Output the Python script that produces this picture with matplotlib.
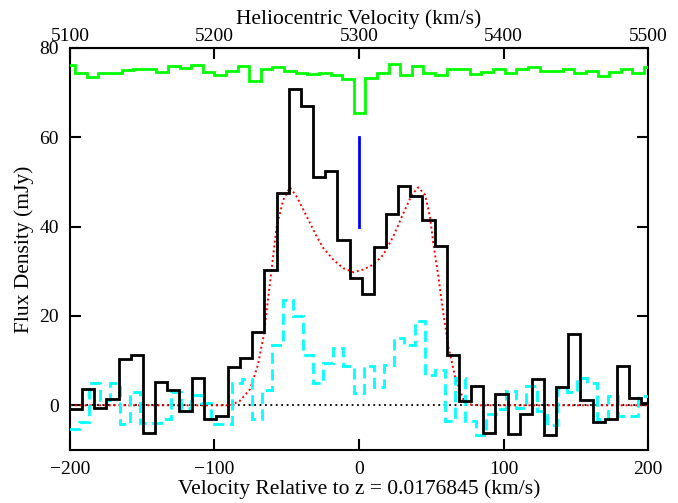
import numpy as np
import matplotlib
matplotlib.use('Agg')
import matplotlib.pyplot as plt

plt.rcParams['font.family'] = ['Liberation Serif', 'DejaVu Serif']
plt.rcParams['mathtext.fontset'] = 'stix'

V_SYS = 5300.0  # heliocentric velocity at z = 0.0176845

# HI spectrum (black), channel grid
hi_start, hi_width = -200.0, 8.41
hi_flux = [-0.9, 3.7, -0.5, 1.5, 10.3, 11.2, -6.3, 5.3, 3.4, -1.3,
           6.2, -3.0, -2.5, 8.6, 10.7, 16.4, 30.4, 47.5, 70.9, 67.0,
           51.2, 52.5, 36.9, 28.4, 24.9, 35.4, 42.8, 49.2, 46.9, 41.5,
           35.7, 11.2, 1.0, 4.3, -6.3, 2.6, -6.5, -2.0, 5.8, -6.7,
           4.1, 16.0, 1.3, -3.7, -3.1, 8.9, 1.6, 0.6]

# second spectrum (cyan, dashed)
alt_start, alt_width = -200.55, 7.03
alt_flux = [-5.2, -3.7, 5.1, 1.3, 5.1, -4.1, 3.0, -4.0, -3.9, -3.0,
            3.0, -0.7, 2.2, 0.5, -4.1, -4.1, 5.1, 5.9, -3.1, 3.4,
            13.4, 23.5, 19.9, 11.2, 4.9, 9.5, 12.9, 8.8, 2.8, 8.8,
            4.1, 9.0, 15.1, 13.4, 18.8, 6.8, 7.8, -3.6, 6.2, -3.4,
            -6.6, -2.0, -0.9, 3.3, -0.7, 4.3, -1.2, -4.5, 3.9, 3.0,
            6.2, 5.1, -3.0, 2.1, -2.4, -2.3, 2.0]

# offset spectrum on top (green)
top_start, top_width = -204.5, 8.035
top_flux = [76.2, 74.3, 73.5, 74.3, 74.5, 75.0, 75.2, 75.2, 74.7, 75.9,
            75.6, 76.3, 74.7, 73.9, 74.8, 75.9, 72.5, 75.2, 75.8, 74.9,
            74.5, 74.1, 74.4, 73.9, 73.0, 65.4, 73.2, 74.3, 76.5, 73.9,
            76.0, 74.3, 73.9, 75.3, 75.3, 74.1, 74.7, 75.2, 74.4, 75.3,
            75.8, 74.9, 74.8, 75.4, 74.3, 74.9, 73.8, 74.7, 75.4, 74.4,
            75.8]

# model fit (red dotted)
fit_v = [-200, -89, -82.4, -75.4, -70, -66, -61.6, -57, -52.4, -47.8,
         -43.1, -38.5, -33.9, -29.3, -24.7, -17.8, -10.9, -3.9, 3.0, 9.9,
         16.8, 23.7, 30.7, 36.5, 41.0, 45.7, 49.1, 51.4, 54.9, 58.3,
         61.8, 66.4, 72.2, 76.8, 82, 200]
fit_f = [0, 0, 1.0, 3.6, 9.0, 15.5, 27.4, 40, 46, 48.8,
         46.7, 43.8, 40.8, 37.8, 35.2, 32.6, 30.7, 29.8, 30.4, 31.5,
         33.7, 37.8, 43.0, 47.1, 48.8, 47.1, 42.3, 36.3, 28.9, 20.7,
         13.2, 6.5, 1.3, 0.2, 0, 0]

# blue marker at systemic velocity
marker_v = 0.0
marker_f = [40, 60]


def edges(start, width, n):
    return start + width * np.arange(n + 1)


fig = plt.figure(figsize=(6.78, 5.03), dpi=100)
ax = fig.add_axes([0.1032, 0.1054, 0.8526, 0.7992])

ax.axhline(0, color='black', linestyle=(0, (1, 2)), linewidth=1.3, zorder=1)
ax.plot(fit_v, fit_f, color='red', linestyle=(0, (1, 1.5)), linewidth=1.4, zorder=2)
ax.stairs(alt_flux, edges(alt_start, alt_width, len(alt_flux)), baseline=None,
          color='cyan', linestyle=(0, (4, 2)), linewidth=2.0, zorder=3)
ax.stairs(hi_flux, edges(hi_start, hi_width, len(hi_flux)), baseline=None,
          color='black', linewidth=2.0, zorder=4)
ax.stairs(top_flux, edges(top_start, top_width, len(top_flux)), baseline=None,
          color='#00ff00', linewidth=2.0, zorder=4)
ax.plot([marker_v, marker_v], marker_f, color='blue', linewidth=2.0, zorder=5)

ax.set_xlim(-200, 200)
ax.set_ylim(-10, 80)
ax.set_xticks(np.arange(-200, 201, 100))
ax.set_yticks(np.arange(0, 81, 20))
ax.tick_params(direction='in', length=8, width=1.5, labelsize=14,
               top=False, right=True, pad=8)
for s in ax.spines.values():
    s.set_linewidth(1.5)

ax.set_xlabel('Velocity Relative to z = 0.0176845 (km/s)', fontsize=15.5, labelpad=1)
ax.set_ylabel('Flux Density (mJy)', fontsize=15.5, labelpad=4)

top = ax.secondary_xaxis('top', functions=(lambda v: v + V_SYS, lambda h: h - V_SYS))
top.set_xticks(np.arange(5100, 5501, 100))
top.tick_params(direction='in', length=8, width=1.5, labelsize=14, pad=2)
top.set_xlabel('Heliocentric Velocity (km/s)', fontsize=15.5, labelpad=3)

fig.savefig('out.png', dpi=100)
